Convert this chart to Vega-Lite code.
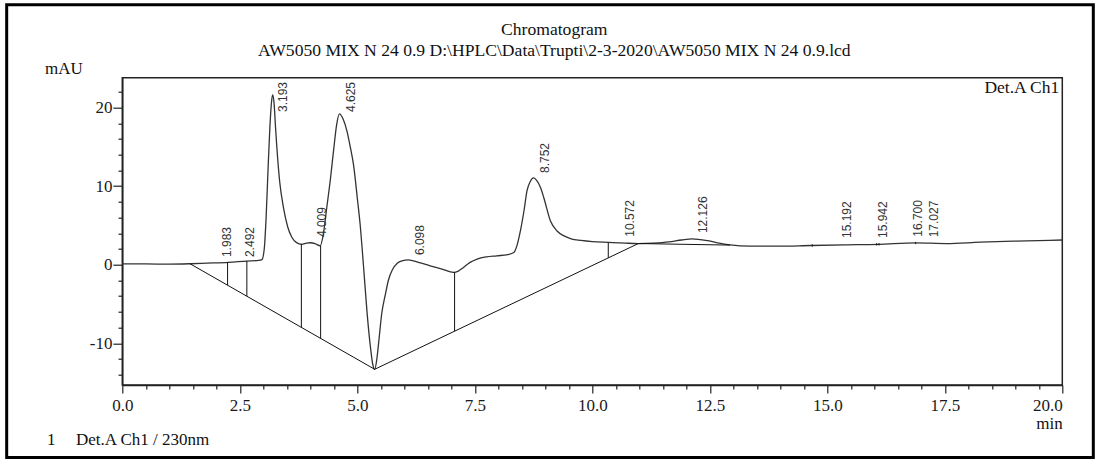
{
  "$schema": "https://vega.github.io/schema/vega-lite/v6.json",
  "width": 940,
  "height": 307.3,
  "autosize": {"type": "none"},
  "padding": {"left": 122.3, "top": 77.7, "right": 41.7, "bottom": 74},
  "background": "white",
  "title": {
    "text": "Chromatogram",
    "subtitle": "AW5050 MIX N 24 0.9 D:\\HPLC\\Data\\Trupti\\2-3-2020\\AW5050 MIX N 24 0.9.lcd",
    "anchor": "middle",
    "dx": -38,
    "font": "Liberation Serif",
    "fontSize": 17.6,
    "fontWeight": "normal",
    "color": "#111111",
    "subtitleFont": "Liberation Serif",
    "subtitleFontSize": 17.6,
    "subtitleColor": "#111111",
    "subtitlePadding": 3,
    "offset": -56
  },
  "config": {"view": {"stroke": "#222222", "strokeWidth": 1.5}},
  "datasets": {
    "trace": [
      {"t": 0.0, "v": 0.1}, {"t": 0.5, "v": 0.1}, {"t": 1.0, "v": 0.08}, {"t": 1.45, "v": 0.13},
      {"t": 1.8, "v": 0.2}, {"t": 2.26, "v": 0.3}, {"t": 2.65, "v": 0.47}, {"t": 2.9, "v": 0.55},
      {"t": 2.97, "v": 0.65}, {"t": 3.02, "v": 2.0}, {"t": 3.06, "v": 6.0}, {"t": 3.1, "v": 12.0},
      {"t": 3.14, "v": 17.5}, {"t": 3.18, "v": 21.0}, {"t": 3.2, "v": 21.6}, {"t": 3.23, "v": 20.5},
      {"t": 3.26, "v": 17.5}, {"t": 3.29, "v": 14.8}, {"t": 3.35, "v": 10.5}, {"t": 3.43, "v": 7.25},
      {"t": 3.52, "v": 4.8}, {"t": 3.61, "v": 3.46}, {"t": 3.7, "v": 2.85}, {"t": 3.82, "v": 2.6},
      {"t": 3.92, "v": 2.75}, {"t": 4.0, "v": 2.8}, {"t": 4.1, "v": 2.7}, {"t": 4.21, "v": 2.4},
      {"t": 4.28, "v": 4.0}, {"t": 4.35, "v": 7.25}, {"t": 4.43, "v": 11.0}, {"t": 4.5, "v": 14.8},
      {"t": 4.56, "v": 17.8}, {"t": 4.62, "v": 19.2}, {"t": 4.7, "v": 18.5}, {"t": 4.78, "v": 17.0},
      {"t": 4.85, "v": 15.0}, {"t": 4.92, "v": 12.7}, {"t": 5.0, "v": 8.5}, {"t": 5.06, "v": 5.15},
      {"t": 5.13, "v": 0.0}, {"t": 5.21, "v": -6.25}, {"t": 5.28, "v": -10.5}, {"t": 5.33, "v": -12.7},
      {"t": 5.37, "v": -13.3}, {"t": 5.42, "v": -11.8}, {"t": 5.47, "v": -9.0}, {"t": 5.52, "v": -6.2},
      {"t": 5.6, "v": -3.7}, {"t": 5.66, "v": -2.0}, {"t": 5.75, "v": -0.6}, {"t": 5.85, "v": 0.2},
      {"t": 5.95, "v": 0.5}, {"t": 6.09, "v": 0.62}, {"t": 6.3, "v": 0.3}, {"t": 6.55, "v": -0.13},
      {"t": 6.8, "v": -0.55}, {"t": 7.05, "v": -0.97}, {"t": 7.15, "v": -0.8}, {"t": 7.26, "v": -0.34},
      {"t": 7.4, "v": 0.3}, {"t": 7.55, "v": 0.72}, {"t": 7.75, "v": 1.0}, {"t": 7.97, "v": 1.14},
      {"t": 8.2, "v": 1.3}, {"t": 8.33, "v": 1.56}, {"t": 8.4, "v": 2.5}, {"t": 8.47, "v": 4.3},
      {"t": 8.55, "v": 7.0}, {"t": 8.61, "v": 9.4}, {"t": 8.68, "v": 10.6}, {"t": 8.75, "v": 11.05},
      {"t": 8.82, "v": 10.7}, {"t": 8.9, "v": 9.8}, {"t": 8.97, "v": 8.5}, {"t": 9.11, "v": 5.57},
      {"t": 9.25, "v": 4.3}, {"t": 9.4, "v": 3.67}, {"t": 9.55, "v": 3.3}, {"t": 9.76, "v": 3.1},
      {"t": 10.0, "v": 2.95}, {"t": 10.34, "v": 2.85}, {"t": 10.7, "v": 2.75}, {"t": 10.98, "v": 2.7},
      {"t": 11.3, "v": 2.75}, {"t": 11.63, "v": 2.9}, {"t": 11.9, "v": 3.15}, {"t": 12.13, "v": 3.3},
      {"t": 12.3, "v": 3.2}, {"t": 12.49, "v": 3.04}, {"t": 12.7, "v": 2.75}, {"t": 12.93, "v": 2.53},
      {"t": 13.36, "v": 2.36}, {"t": 13.93, "v": 2.36}, {"t": 14.65, "v": 2.45}, {"t": 15.37, "v": 2.53},
      {"t": 16.09, "v": 2.6}, {"t": 16.88, "v": 2.78}, {"t": 17.53, "v": 2.7}, {"t": 18.25, "v": 2.87},
      {"t": 18.97, "v": 3.0}, {"t": 20.0, "v": 3.15}
    ],
    "lines": [
      {"t": 1.44, "v": 0.13, "t2": 5.37, "v2": -13.3},
      {"t": 5.37, "v": -13.3, "t2": 10.98, "v2": 2.7},
      {"t": 10.98, "v": 2.7, "t2": 12.93, "v2": 2.5},
      {"t": 2.24, "v": 0.33, "t2": 2.24, "v2": -2.6},
      {"t": 2.65, "v": 0.47, "t2": 2.65, "v2": -4.0},
      {"t": 3.81, "v": 2.66, "t2": 3.81, "v2": -7.97},
      {"t": 4.22, "v": 2.44, "t2": 4.22, "v2": -9.37},
      {"t": 7.07, "v": -0.93, "t2": 7.07, "v2": -8.45},
      {"t": 10.34, "v": 2.85, "t2": 10.34, "v2": 0.87},
      {"t": 14.68, "v": 2.6, "t2": 14.68, "v2": 2.3},
      {"t": 16.05, "v": 2.75, "t2": 16.05, "v2": 2.45},
      {"t": 16.1, "v": 2.75, "t2": 16.1, "v2": 2.45},
      {"t": 16.88, "v": 2.9, "t2": 16.88, "v2": 2.62}
    ],
    "peaks": [
      {"rt": 1.983, "h": 0.98, "label": "1.983"},
      {"rt": 2.492, "h": 0.98, "label": "2.492"},
      {"rt": 3.193, "h": 19.43, "label": "3.193"},
      {"rt": 4.009, "h": 3.52, "label": "4.009"},
      {"rt": 4.625, "h": 19.43, "label": "4.625"},
      {"rt": 6.098, "h": 1.23, "label": "6.098"},
      {"rt": 8.752, "h": 11.67, "label": "8.752"},
      {"rt": 10.572, "h": 3.56, "label": "10.572"},
      {"rt": 12.126, "h": 4.03, "label": "12.126"},
      {"rt": 15.192, "h": 3.4, "label": "15.192"},
      {"rt": 15.942, "h": 3.4, "label": "15.942"},
      {"rt": 16.7, "h": 3.56, "label": "16.700"},
      {"rt": 17.027, "h": 3.49, "label": "17.027"}
    ]
  },
  "layer": [
    {
      "data": {"name": "trace"},
      "mark": {"type": "line", "strokeWidth": 1.3, "interpolate": "monotone"},
      "encoding": {
        "x": {
          "field": "t", "type": "quantitative",
          "scale": {"domain": [0, 20], "nice": false, "zero": false},
          "axis": {
            "values": [0,0.5,1,1.5,2,2.5,3,3.5,4,4.5,5,5.5,6,6.5,7,7.5,8,8.5,9,9.5,10,10.5,11,11.5,12,12.5,13,13.5,14,14.5,15,15.5,16,16.5,17,17.5,18,18.5,19,19.5,20],
            "tickCount": 200,
            "title": "min",
            "titleX": 940, "titleY": 43,
            "titleAlign": "right", "titleBaseline": "alphabetic",
            "titleFont": "Liberation Serif", "titleFontSize": 17, "titleFontWeight": "normal", "titleColor": "#111111",
            "labelFont": "Liberation Serif", "labelFontSize": 17, "labelColor": "#1a1a1a",
            "labelExpr": "datum.value % 2.5 === 0 ? format(datum.value, '.1f') : ''",
            "labelAlign": {"condition": {"test": "datum.value === 20", "value": "right"}, "value": "center"},
            "labelOverlap": false, "labelFlush": false,
            "tickSize": {"condition": {"test": "datum.value % 2.5 === 0", "value": 8}, "value": 4},
            "labelPadding": 4,
            "domainColor": "#222222", "domainWidth": 1.5,
            "tickColor": "#222222", "tickWidth": 1.2,
            "grid": false
          }
        },
        "y": {
          "field": "v", "type": "quantitative",
          "scale": {"domain": [-15.3, 23.8], "nice": false, "zero": false},
          "axis": {
            "values": [-14,-12,-10,-8,-6,-4,-2,0,2,4,6,8,10,12,14,16,18,20,22],
            "tickCount": 200,
            "title": "mAU",
            "titleAngle": 0, "titleX": -58.8, "titleY": -4.7,
            "titleAlign": "center", "titleBaseline": "alphabetic",
            "titleFont": "Liberation Serif", "titleFontSize": 17, "titleFontWeight": "normal", "titleColor": "#111111",
            "labelFont": "Liberation Serif", "labelFontSize": 17, "labelColor": "#1a1a1a",
            "labelExpr": "datum.value % 10 === 0 ? '' + datum.value : ''",
            "labelOverlap": false, "labelFlush": false,
            "tickSize": {"condition": {"test": "datum.value % 10 === 0", "value": 9.4}, "value": 4.3},
            "labelPadding": 1,
            "domainColor": "#222222", "domainWidth": 1.5,
            "tickColor": "#222222", "tickWidth": 1.2,
            "grid": false
          }
        },
        "color": {
          "datum": "Det.A Ch1 / 230nm", "type": "nominal",
          "scale": {"range": ["#333333"]},
          "legend": {
            "orient": "none", "legendX": -75.3, "legendY": 354,
            "title": "1", "titleOrient": "left", "titlePadding": 3,
            "titleFont": "Liberation Serif", "titleFontSize": 17, "titleFontWeight": "normal", "titleColor": "#111111",
            "labelFont": "Liberation Serif", "labelFontSize": 17, "labelColor": "#111111",
            "symbolSize": 0, "symbolOpacity": 0, "labelOffset": 0
          }
        }
      }
    },
    {
      "data": {"name": "lines"},
      "mark": {"type": "rule", "color": "#111111", "strokeWidth": 1},
      "encoding": {
        "x": {"field": "t", "type": "quantitative"},
        "y": {"field": "v", "type": "quantitative"},
        "x2": {"field": "t2"},
        "y2": {"field": "v2"}
      }
    },
    {
      "data": {"name": "peaks"},
      "mark": {"type": "text", "angle": 270, "align": "left", "baseline": "middle", "dy": 11, "font": "Liberation Sans", "fontSize": 12, "color": "#333333"},
      "encoding": {
        "x": {"field": "rt", "type": "quantitative"},
        "y": {"field": "h", "type": "quantitative"},
        "text": {"field": "label"}
      }
    },
    {
      "data": {"values": [{"label": "Det.A Ch1"}]},
      "mark": {"type": "text", "align": "right", "baseline": "alphabetic", "dx": -3, "font": "Liberation Serif", "fontSize": 17.5, "color": "#111111"},
      "encoding": {
        "x": {"datum": 20, "type": "quantitative"},
        "y": {"datum": 21.88, "type": "quantitative"},
        "text": {"field": "label"}
      }
    },
    {
      "data": {"values": [{"frame": "page"}]},
      "mark": {"type": "rect", "fill": "transparent", "stroke": "#000000", "strokeWidth": 3},
      "encoding": {
        "x": {"datum": -2.46, "type": "quantitative"},
        "x2": {"datum": 20.66},
        "y": {"datum": 33.08, "type": "quantitative"},
        "y2": {"datum": -24.53}
      }
    }
  ]
}
